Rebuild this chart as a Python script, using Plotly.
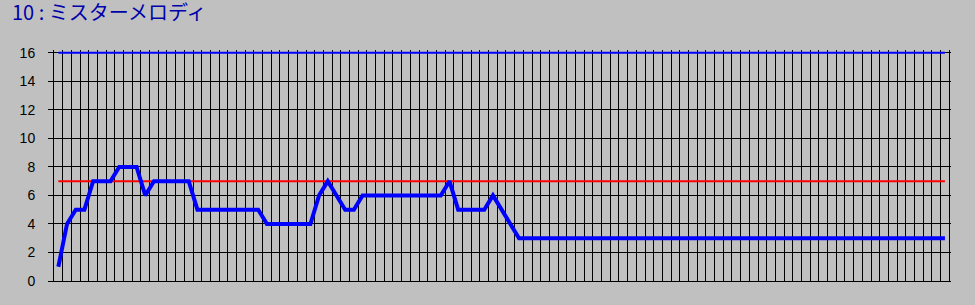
import plotly.graph_objects as go

title_text = "10 : ミスターメロディ"
values = [1, 4, 5, 5, 7, 7, 7, 8, 8, 8, 6, 7, 7, 7, 7, 7, 5, 5, 5, 5,
          5, 5, 5, 5, 4, 4, 4, 4, 4, 4, 6, 7, 6, 5, 5, 6, 6, 6, 6, 6,
          6, 6, 6, 6, 6, 7, 5, 5, 5, 5, 6, 5, 4, 3] + [3] * 49
n = len(values)
x = list(range(n))
upper = [16] * n
ref = [7] * n
y_ticks = [0, 2, 4, 6, 8, 10, 12, 14, 16]

fig = go.Figure()
fig.add_trace(go.Scatter(x=x, y=upper, mode="lines", line=dict(color="#0000FF", width=2), hoverinfo="skip"))
fig.add_trace(go.Scatter(x=x, y=ref, mode="lines", line=dict(color="#FF0000", width=2), hoverinfo="skip"))
fig.add_trace(go.Scatter(x=x, y=values, mode="lines", line=dict(color="#0000FF", width=4), hoverinfo="skip"))

fig.update_layout(
    width=975, height=305,
    paper_bgcolor="#C0C0C0", plot_bgcolor="#C0C0C0",
    margin=dict(l=54, r=24, t=50, b=24),
    showlegend=False,
    title=dict(text=title_text, x=12/975, xanchor="left", y=1 - 6/305, yanchor="top",
               font=dict(family="Noto Sans CJK JP", size=20, color="#0000AA")),
    xaxis=dict(range=[-0.5, n - 0.5 + 0.2], tick0=-0.5, dtick=1, showticklabels=False,
               showgrid=True, gridcolor="black", gridwidth=1, zeroline=False,
               showline=True, linecolor="black", linewidth=1, mirror=False, ticks=""),
    yaxis=dict(range=[0, 16.2], tickvals=y_ticks, ticktext=[str(v) for v in y_ticks],
               showgrid=True, gridcolor="black", gridwidth=1, zeroline=False,
               showline=True, linecolor="black", linewidth=1, mirror=False,
               ticks="outside", ticklen=5, tickcolor="black", tickwidth=1,
               ticklabelstandoff=10,
               tickfont=dict(family="Liberation Sans", size=14, color="black")),
)
fig.write_html("out.html")
